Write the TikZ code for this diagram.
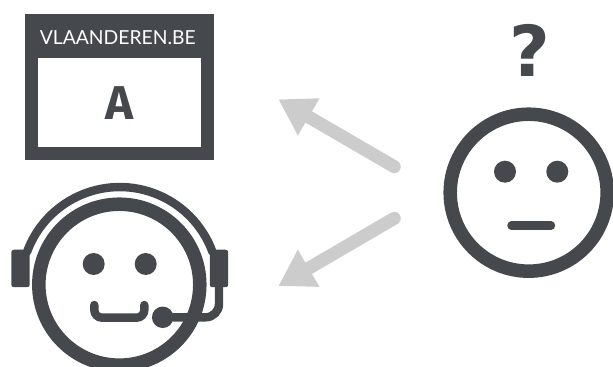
\documentclass[tikz,border=0pt]{standalone}
\usepackage{fontspec}
\setmainfont{Lato}
\newfontfamily\questionfont{DejaVu Sans}
\newfontfamily\letterfont{Fira Sans}
\usetikzlibrary{arrows.meta}
\definecolor{icongray}{HTML}{45484C}
\definecolor{arrowgray}{HTML}{CCCCCC}
\begin{document}
\begin{tikzpicture}[x=0.02cm,y=-0.02cm,
    ring/.style={circle,draw=icongray,line width=7.7pt,fill=white,inner sep=0pt,outer sep=0pt},
    eye/.style={circle,fill=icongray,minimum size=0.44cm,inner sep=0pt,outer sep=0pt},
    pad/.style={rectangle,fill=icongray,rounded corners=1.5pt,minimum width=0.37cm,minimum height=0.75cm,inner sep=0pt},
    stroke/.style={draw=icongray,line width=4.8pt,line cap=round},
    lookup/.style={draw=arrowgray,line width=7.4pt,line cap=round,-{Triangle[width=23pt,length=20pt,sep=0pt]}}]
    \clip (0,0) rectangle (613,367);

    % Website box
    \node[rectangle,fill=icongray,minimum width=3.78cm,minimum height=2.92cm,inner sep=0pt] (site) at (119.5,87) {};
    \node[rectangle,fill=white,minimum width=3.26cm,minimum height=1.78cm,inner sep=0pt] (page) at (119.5,102.5) {};
    \node[white,font=\fontsize{11}{13}\selectfont,inner sep=0pt] (sitename) at (117.8,37.3) {VLAANDEREN.BE};
    \node[icongray,font=\fontsize{27}{30}\selectfont\bfseries\letterfont,inner sep=0pt] (letter) at (119.5,103.5) {A};

    % Agent with headset
    \draw[stroke] (27,252) arc[start angle=200,end angle=340,radius=98.7];
    \node[pad] (padleft) at (20.5,268.5) {};
    \node[pad] (padright) at (219,268.5) {};
    \node[ring,minimum size=3.22cm] (agent) at (119.3,284.7) {};
    \node[eye] (agenteyeleft) at (93.7,264) {};
    \node[eye] (agenteyeright) at (145.7,264) {};
    \draw[stroke] (94.3,305) -- (94.3,310) arc[start angle=180,end angle=90,radius=7.7] -- (136.6,317.7) arc[start angle=90,end angle=0,radius=7.7] -- (144.3,305);
    \node[eye,minimum size=0.43cm] (mic) at (162.7,317.3) {};
    \draw[stroke] (padright.south) -- (219,304) arc[start angle=0,end angle=90,radius=13.3] -- (mic);

    % Person with a question
    \node[ring,minimum size=3.14cm] (person) at (528.7,192.7) {};
    \node[eye] (personeyeleft) at (505,171.7) {};
    \node[eye] (personeyeright) at (557.3,171.7) {};
    \coordinate (mouthleft) at (511.5,225.7);
    \coordinate (mouthright) at (551,225.7);
    \draw[stroke] (mouthleft) -- (mouthright);
    \node[icongray,font=\fontsize{40}{50}\selectfont\bfseries\questionfont,inner sep=0pt] (question) at (529.5,50.5) {?};

    % Arrows
    \coordinate (uppertail) at (394.3,166.7);
    \coordinate (uppertip) at (278.3,99.3);
    \coordinate (lowertail) at (394.3,218.3);
    \coordinate (lowertip) at (278.3,286);
    \draw[lookup] (uppertail) -- (uppertip);
    \draw[lookup] (lowertail) -- (lowertip);
\end{tikzpicture}
\end{document}
